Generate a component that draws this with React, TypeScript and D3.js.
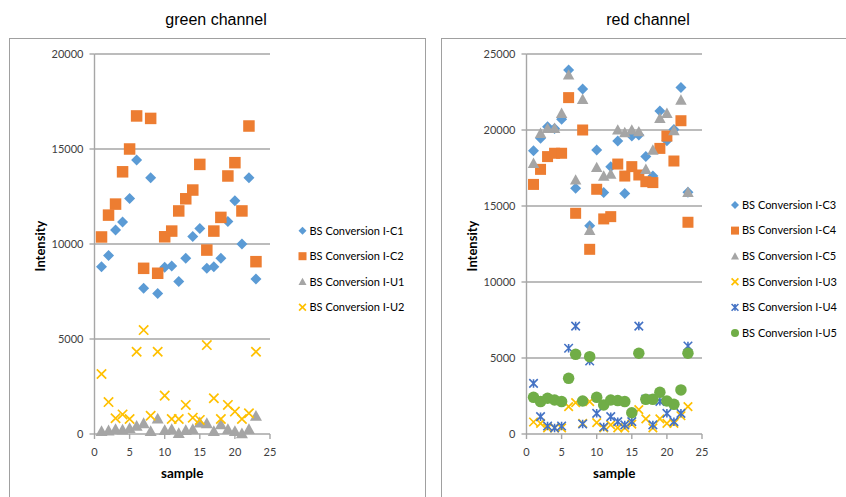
import React from "react";
import * as d3 from "d3";

const samples = [1, 2, 3, 4, 5, 6, 7, 8, 9, 10, 11, 12, 13, 14, 15, 16, 17, 18, 19, 20, 21, 22, 23];

// green channel
const greenC1 = [8800, 9400, 10740, 11160, 12400, 14420, 7670, 13490, 7400, 8770, 8840, 8020, 9250, 10400, 10820, 8720, 8800, 9250, 11180, 12280, 10000, 13490, 8160];
const greenC2 = [10370, 11520, 12100, 13800, 15000, 16740, 8720, 16610, 8460, 10380, 10680, 11740, 12380, 12840, 14190, 9680, 10680, 11400, 13580, 14280, 11740, 16210, 9070];
const greenU1 = [150, 180, 250, 230, 300, 420, 560, 150, 800, 200, 250, 40, 200, 250, 600, 560, 150, 500, 250, 150, 30, 250, 950];
const greenU2 = [3160, 1680, 830, 1030, 790, 4330, 5470, 960, 4330, 2020, 790, 790, 1530, 860, 740, 4680, 1880, 790, 1530, 1180, 790, 1090, 4330];

// red channel
const redC3 = [18640, 19450, 20220, 20100, 20700, 23950, 16160, 22700, 13700, 18680, 15880, 17590, 19280, 15830, 19600, 19670, 18250, 16970, 21250, 19300, 20040, 22790, 15900];
const redC4 = [16420, 17410, 18250, 18470, 18470, 22130, 14520, 20000, 12150, 16100, 14150, 14300, 17760, 16970, 17590, 17040, 16600, 16540, 18790, 19600, 17960, 20610, 13930];
const redC5 = [17810, 19780, 20100, 20110, 21100, 23620, 16710, 22020, 13400, 17540, 16970, 17100, 20000, 19830, 20000, 19890, 17410, 18680, 20770, 21100, 19960, 21970, 15900];
const redU3 = [790, 700, 400, 400, 400, 1800, 2060, 700, 2130, 750, 400, 600, 400, 400, 650, 1600, 1000, 400, 1000, 700, 700, 1200, 1800];
const redU4 = [3330, 1140, 530, 400, 530, 5640, 7100, 660, 4800, 1360, 460, 1140, 810, 600, 810, 7100, 2300, 600, 2150, 1360, 810, 1360, 5790];
const redU5 = [2410, 2130, 2350, 2240, 2130, 3660, 5240, 2170, 5090, 2410, 1910, 2240, 2200, 2130, 1400, 5310, 2280, 2280, 2740, 2170, 1950, 2900, 5310];

const greenNames = ["BS Conversion I-C1", "BS Conversion I-C2", "BS Conversion I-U1", "BS Conversion I-U2"];
const redNames = ["BS Conversion I-C3", "BS Conversion I-C4", "BS Conversion I-C5", "BS Conversion I-U3", "BS Conversion I-U4", "BS Conversion I-U5"];

const xTicks = [0, 5, 10, 15, 20, 25];
const greenYTicks = [0, 5000, 10000, 15000, 20000];
const redYTicks = [0, 5000, 10000, 15000, 20000, 25000];

type Shape = "diamond" | "square" | "triangle" | "x" | "star" | "circle";

function Marker({ shape, color, x, y, s }: { shape: Shape; color: string; x: number; y: number; s: number }) {
  const h = s / 2;
  switch (shape) {
    case "diamond":
      return <path d={`M${x},${y - h}L${x + h},${y}L${x},${y + h}L${x - h},${y}Z`} fill={color} />;
    case "square":
      return <rect x={x - h} y={y - h} width={s} height={s} fill={color} />;
    case "triangle":
      return <path d={`M${x},${y - h}L${x + h},${y + h * 0.8}L${x - h},${y + h * 0.8}Z`} fill={color} />;
    case "circle":
      return <circle cx={x} cy={y} r={h} fill={color} />;
    case "x": {
      const k = h * 0.85;
      return (
        <path d={`M${x - k},${y - k}L${x + k},${y + k}M${x - k},${y + k}L${x + k},${y - k}`} stroke={color} strokeWidth={1.7} fill="none" />
      );
    }
    case "star": {
      const k = h * 0.85;
      return (
        <path
          d={`M${x - k},${y - k}L${x + k},${y + k}M${x - k},${y + k}L${x + k},${y - k}M${x},${y - k}L${x},${y + k}`}
          stroke={color}
          strokeWidth={1.6}
          fill="none"
        />
      );
    }
  }
  return null;
}

type Series = { name: string; values: number[]; shape: Shape; color: string; size: number };

function Panel({
  x0, x1, yMax, yTicks, series, legendX, legendY0, legendStep,
}: {
  x0: number; x1: number; yMax: number; yTicks: number[]; series: Series[];
  legendX: number; legendY0: number; legendStep: number;
}) {
  const xs = d3.scaleLinear().domain([0, 25]).range([x0, x1]);
  const ys = d3.scaleLinear().domain([0, yMax]).range([434, 54]);
  const axisColor = "#a6a6a6";
  const tickFont = "Lato, 'Open Sans', sans-serif";
  return (
    <g>
      {yTicks.map((t) => (
        <g key={"y" + t}>
          {t > 0 && <line x1={x0} x2={x1} y1={ys(t)} y2={ys(t)} stroke={axisColor} strokeWidth={1.4} />}
          <line x1={x0 - 5} x2={x0} y1={ys(t)} y2={ys(t)} stroke={axisColor} strokeWidth={1.4} />
          <text x={x0 - 11} y={ys(t)} dy="0.35em" textAnchor="end" fontSize={11} fontFamily={tickFont} fill="#404040">
            {t}
          </text>
        </g>
      ))}
      <line x1={x0} x2={x0} y1={ys(yMax)} y2={ys(0)} stroke={axisColor} strokeWidth={1.4} />
      <line x1={x0} x2={x1} y1={ys(0)} y2={ys(0)} stroke={axisColor} strokeWidth={1.4} />
      {xTicks.map((t) => (
        <g key={"x" + t}>
          <line x1={xs(t)} x2={xs(t)} y1={ys(0)} y2={ys(0) + 5} stroke={axisColor} strokeWidth={1.4} />
          <text x={xs(t)} y={452} dy="0.35em" textAnchor="middle" fontSize={11} fontFamily={tickFont} fill="#404040">
            {t}
          </text>
        </g>
      ))}
      <text
        x={(x0 + x1) / 2}
        y={473}
        dy="0.35em"
        textAnchor="middle"
        fontSize={13.5}
        fontWeight="bold"
        fontFamily={tickFont}
        fill="#000"
      >
        sample
      </text>
      <text
        transform={`translate(${x0 - 54},${ys(yMax / 2) + 2}) rotate(-90)`}
        dy="0.35em"
        textAnchor="middle"
        fontSize={13}
        fontWeight="bold"
        fontFamily={tickFont}
        fill="#000"
      >
        Intensity
      </text>
      {series.map((s) => (
        <g key={s.name}>
          {s.values.map((v, i) => (
            <Marker key={i} shape={s.shape} color={s.color} x={xs(samples[i])} y={ys(v)} s={s.size} />
          ))}
        </g>
      ))}
      {series.map((s, i) => (
        <g key={"l" + s.name}>
          <Marker shape={s.shape} color={s.color} x={legendX} y={legendY0 + i * legendStep} s={8} />
          <text
            x={legendX + 7}
            y={legendY0 + i * legendStep}
            dy="0.35em"
            fontSize={11}
            fontFamily={tickFont}
            fill="#000"
          >
            {s.name}
          </text>
        </g>
      ))}
    </g>
  );
}

export default function App() {
  const blue = "#5b9bd5";
  const orange = "#ed7d31";
  const gray = "#a5a5a5";
  const yellow = "#ffc000";
  const darkBlue = "#4472c4";
  const green = "#70ad47";

  const greenSeries: Series[] = [
    { name: greenNames[0], values: greenC1, shape: "diamond", color: blue, size: 11 },
    { name: greenNames[1], values: greenC2, shape: "square", color: orange, size: 11.5 },
    { name: greenNames[2], values: greenU1, shape: "triangle", color: gray, size: 12 },
    { name: greenNames[3], values: greenU2, shape: "x", color: yellow, size: 11 },
  ];
  const redSeries: Series[] = [
    { name: redNames[0], values: redC3, shape: "diamond", color: blue, size: 11 },
    { name: redNames[1], values: redC4, shape: "square", color: orange, size: 11 },
    { name: redNames[2], values: redC5, shape: "triangle", color: gray, size: 11.5 },
    { name: redNames[3], values: redU3, shape: "x", color: yellow, size: 10 },
    { name: redNames[4], values: redU4, shape: "star", color: darkBlue, size: 10 },
    { name: redNames[5], values: redU5, shape: "circle", color: green, size: 11.5 },
  ];

  return (
    <svg
      width={846}
      height={497}
      style={{ position: "absolute", left: 0, top: 0, background: "#fff" }}
    >
      <rect x={0} y={0} width={846} height={497} fill="#fff" />
      <text x={216} y={19} dy="0.35em" textAnchor="middle" fontSize={16} fontFamily="'Liberation Sans', Arial, sans-serif" fill="#000">
        green channel
      </text>
      <text x={648} y={19} dy="0.35em" textAnchor="middle" fontSize={16} fontFamily="'Liberation Sans', Arial, sans-serif" fill="#000">
        red channel
      </text>
      <rect x={9.5} y={38.5} width={416} height={480} fill="none" stroke="#a0a0a0" strokeWidth={1} />
      <rect x={441.5} y={38.5} width={420} height={480} fill="none" stroke="#a0a0a0" strokeWidth={1} />
      <Panel x0={94.5} x1={270} yMax={20000} yTicks={greenYTicks} series={greenSeries} legendX={302.5} legendY0={230.7} legendStep={25.5} />
      <Panel x0={526.5} x1={702} yMax={25000} yTicks={redYTicks} series={redSeries} legendX={735} legendY0={205} legendStep={25.6} />
    </svg>
  );
}
